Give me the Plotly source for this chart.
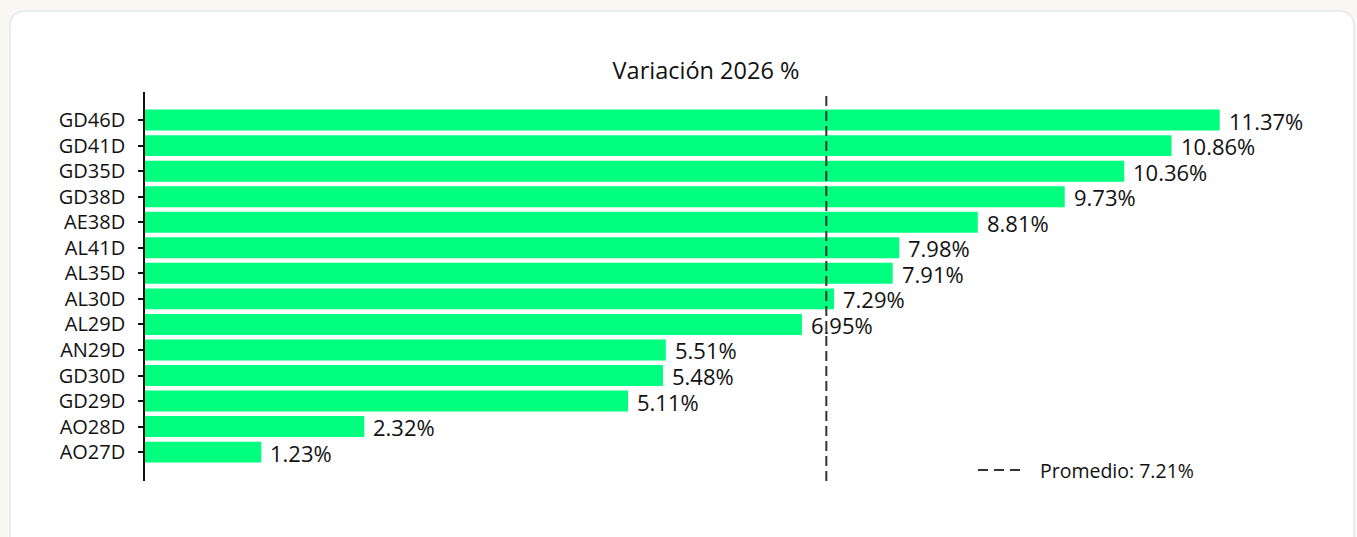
import plotly.graph_objects as go

# ---- data ----
bonos = ["GD46D", "GD41D", "GD35D", "GD38D", "AE38D", "AL41D", "AL35D",
         "AL30D", "AL29D", "AN29D", "GD30D", "GD29D", "AO28D", "AO27D"]
variacion = [11.37, 10.86, 10.36, 9.73, 8.81, 7.98, 7.91,
             7.29, 6.95, 5.51, 5.48, 5.11, 2.32, 1.23]
titulo = "Variación 2026 %"

promedio = sum(variacion) / len(variacion)

# plot from bottom (last) to top (first)
cats = bonos[::-1]
vals = variacion[::-1]

W, H = 1357, 537
PL, PR, PT, PB = 145, 1267, 92, 481
FONT = "'Open Sans', Lato, sans-serif"
INK = "#111111"
WT = 500


def px(x):
    return (x - PL) / (PR - PL)


def py(y):
    return (PB - y) / (PB - PT)


fig = go.Figure()
fig.add_trace(go.Bar(
    y=cats, x=vals, orientation="h",
    marker=dict(color="#00FF7F", line=dict(width=0)),
    showlegend=False, hoverinfo="x+y",
))

annotations = []
for c, v in zip(cats, vals):
    annotations.append(dict(
        x=v, y=c, xref="x", yref="y", text=f"{v:.2f}%",
        showarrow=False, xanchor="left", yanchor="middle", xshift=8,
        height=25, borderpad=0,
        font=dict(family=FONT, size=22, color=INK, weight=WT),
    ))

# legend (manual)
annotations.append(dict(
    x=px(1038), y=py(470), xref="paper", yref="paper",
    text=f"Promedio: {promedio:.2f}%", showarrow=False,
    xanchor="left", yanchor="middle",
    font=dict(family=FONT, size=19.5, color=INK, weight=WT),
))

# card background with rounded corners
x0, x1, y0, y1, r = 10, 1354, 11, 560, 16
path = (
    f"M {px(x0 + r)} {py(y0)} L {px(x1 - r)} {py(y0)} "
    f"Q {px(x1)} {py(y0)} {px(x1)} {py(y0 + r)} "
    f"L {px(x1)} {py(y1)} L {px(x0)} {py(y1)} "
    f"L {px(x0)} {py(y0 + r)} Q {px(x0)} {py(y0)} {px(x0 + r)} {py(y0)} Z"
)
shapes = [
    dict(type="path", path=path, xref="paper", yref="paper",
         fillcolor="#ffffff", line=dict(color="#e3e7ec", width=1.5),
         layer="below"),
    dict(type="line", xref="x", yref="paper", x0=promedio, x1=promedio,
         y0=0, y1=1, line=dict(color="#333333", width=2, dash="10px,5px"),
         layer="above"),
    dict(type="line", xref="paper", yref="paper", x0=px(978), x1=px(1024),
         y0=py(470), y1=py(470),
         line=dict(color="#333333", width=2, dash="10px,6px")),
]

fig.update_layout(
    width=W, height=H,
    margin=dict(l=PL, r=W - PR, t=PT, b=H - PB, pad=0),
    paper_bgcolor="#f9f7f2",
    plot_bgcolor="rgba(0,0,0,0)",
    bargap=0.18,
    title=dict(text=titulo, x=0.5, xref="paper", xanchor="center",
               y=1 - 71 / H, yanchor="middle",
               font=dict(family=FONT, size=23.5, color=INK, weight=WT)),
    xaxis=dict(range=[0, 11.87], visible=False, fixedrange=True),
    yaxis=dict(
        type="category", categoryorder="array", categoryarray=cats,
        range=[-1.13, len(cats) - 1 + 1.1],
        showline=True, linecolor=INK, linewidth=1.5,
        ticks="outside", ticklen=5, tickwidth=1.5, tickcolor=INK,
        ticklabelstandoff=9, showgrid=False, zeroline=False,
        tickfont=dict(family=FONT, size=20, color=INK, weight=WT),
        fixedrange=True,
    ),
    shapes=shapes,
    annotations=annotations,
    font=dict(family=FONT),
)

fig.write_html(
    "out.html",
    config={"displayModeBar": False},
    post_script="document.body.style.margin='0';document.body.style.overflow='hidden';",
)
